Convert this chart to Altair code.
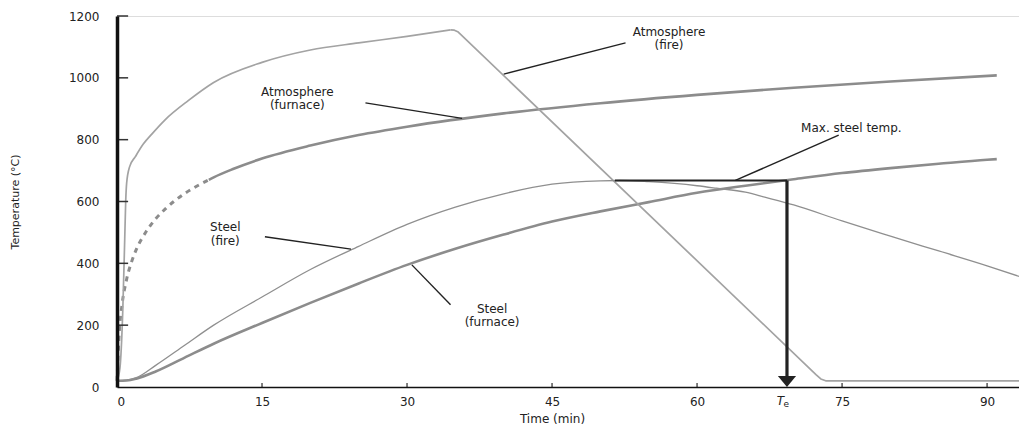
import altair as alt
import pandas as pd

# ---- data ----
# atmosphere (fire): growth phase, then straight-line decay phase
atm_fire_t = [0, 0.3, 0.6, 0.8, 0.9, 1.0, 1.3, 1.9, 2.7, 3.6, 5, 7.4, 10, 15, 20, 25, 30, 34.5]
atm_fire_T = [20, 60, 250, 480, 600, 660, 712, 745, 785, 818, 865, 927, 985, 1050, 1090, 1113, 1134, 1155]
atm_decay_t = [34.5, 34.9, 35.3, 72.3, 72.8, 73.3, 93.3]
atm_decay_T = [1155, 1154, 1148, 40, 26, 20, 20]

atm_furn_dash_t = [0, 0.25, 0.5, 1, 1.5, 2, 3, 4, 5, 6, 7, 8, 9.5]
atm_furn_dash_T = [20, 184, 261, 349, 404, 445, 502, 544, 576, 603, 626, 645, 670]
atm_furn_t = [9.5, 10, 12, 15, 20, 25, 30, 40, 50, 60, 70, 80, 91]
atm_furn_T = [670, 678, 705, 739, 781, 815, 842, 885, 918, 945, 968, 988, 1008]

steel_fire_t = [0, 1, 2, 4, 7, 10, 15, 20, 25, 30, 35, 40, 45, 50, 52, 55, 60, 62, 65, 67, 70, 75, 80, 85, 90, 93.3]
steel_fire_T = [20, 22, 30, 70, 135, 200, 291, 380, 455, 526, 582, 625, 656, 667, 668, 664, 651, 643, 630, 614, 589, 537, 488, 440, 392, 358]

steel_furn_t = [0, 1, 2, 4, 7, 10, 15, 20, 25, 30, 35, 40, 45, 50, 55, 60, 65, 70, 75, 80, 85, 90, 91]
steel_furn_T = [20, 21, 27, 50, 95, 140, 207, 272, 335, 395, 447, 493, 535, 568, 598, 628, 651, 672, 692, 708, 722, 735, 737]

max_start_t = 51.5
te_t = 69.3
max_T = 668

x_ticks = [0, 15, 30, 45, 60, 75, 90]
y_ticks = [0, 200, 400, 600, 800, 1000, 1200]

label_text = ["Atmosphere", "(fire)", "Atmosphere", "(furnace)", "Max. steel temp.",
              "Steel", "(fire)", "Steel", "(furnace)"]
label_t = [57.1, 57.1, 18.65, 18.65, 75.96, 11.2, 11.2, 38.8, 38.8]
label_T = [1147, 1105, 953, 911, 837, 516, 472, 253, 211]

leader_t1 = [52.6, 25.7, 74.65, 15.3, 34.5]
leader_T1 = [1113, 919, 815, 486, 266]
leader_t2 = [40.0, 35.7, 63.96, 24.2, 30.5]
leader_T2 = [1012, 869, 668, 446, 395]

# ---- scales ----
xs = alt.Scale(domain=[0, 93.3], nice=False, zero=False)
ys = alt.Scale(domain=[0, 1200], nice=False)
FONT = "DejaVu Sans"
TXT = "#222222"


def line_df(t, T):
    return pd.DataFrame({"t": t, "T": T})


x_axis = alt.Axis(values=x_ticks, ticks=False, tickSize=0, grid=False, domainColor="#111111",
                  domainWidth=1.5, labelFont=FONT, labelFontSize=12, labelColor=TXT,
                  labelBaseline="middle", labelPadding=14, title="Time (min)", format="d",
                  titleFont=FONT, titleFontSize=12, titleFontWeight="normal", titleColor=TXT,
                  titleX=435, titleY=31, titleBaseline="middle", titleAlign="center", zindex=1)
y_axis = alt.Axis(values=y_ticks, ticks=False, tickSize=0, grid=False, domainColor="#111111",
                  domainWidth=3.5, labelFont=FONT, labelFontSize=12, labelColor=TXT, format="d",
                  labelPadding=18, title="Temperature (°C)", titleFont=FONT, titleFontSize=11,
                  titleFontWeight="normal", titleColor=TXT, titleAngle=270, titleX=-102,
                  titleY=185.5, titleAlign="center", titleBaseline="middle", zindex=1)

base_x = alt.X("t:Q", scale=xs, axis=x_axis)
base_y = alt.Y("T:Q", scale=ys, axis=y_axis)

furn_dash = alt.Chart(line_df(atm_furn_dash_t, atm_furn_dash_T)).mark_line(
    color="#8c8c8c", strokeWidth=3, strokeDash=[5, 5], interpolate="monotone").encode(x=base_x, y=base_y)
furn_solid = alt.Chart(line_df(atm_furn_t, atm_furn_T)).mark_line(
    color="#8c8c8c", strokeWidth=2.6, interpolate="monotone").encode(x="t:Q", y="T:Q")
steel_furn = alt.Chart(line_df(steel_furn_t, steel_furn_T)).mark_line(
    color="#8c8c8c", strokeWidth=2.6, interpolate="monotone").encode(x="t:Q", y="T:Q")
atm_fire = alt.Chart(line_df(atm_fire_t, atm_fire_T)).mark_line(
    color="#a3a3a3", strokeWidth=1.7, interpolate="monotone").encode(x="t:Q", y="T:Q")
atm_decay = alt.Chart(line_df(atm_decay_t, atm_decay_T)).mark_line(
    color="#a3a3a3", strokeWidth=1.7, strokeJoin="round").encode(x="t:Q", y="T:Q")
steel_fire = alt.Chart(line_df(steel_fire_t, steel_fire_T)).mark_line(
    color="#8f8f8f", strokeWidth=1.3, interpolate="monotone").encode(x="t:Q", y="T:Q")

max_df = pd.DataFrame({"t": [max_start_t], "t2": [te_t], "T": [max_T]})
max_line = alt.Chart(max_df).mark_rule(color="#222222", strokeWidth=2).encode(
    x="t:Q", x2="t2:Q", y="T:Q")
arrow_df = pd.DataFrame({"t": [te_t], "T": [max_T], "T2": [20]})
arrow_line = alt.Chart(arrow_df).mark_rule(color="#222222", strokeWidth=3.2).encode(
    x="t:Q", y="T:Q", y2="T2:Q")
head_df = pd.DataFrame({"t": [te_t], "T": [0]})
arrow_head = alt.Chart(head_df).mark_point(
    shape="M-1,-0.6L1,-0.6L0,0.6Z", filled=True, color="#222222", opacity=1, size=330).encode(
    x="t:Q", y="T:Q", yOffset=alt.value(-5.5))

leader_df = pd.DataFrame({"t": leader_t1, "T": leader_T1, "t2": leader_t2, "T2": leader_T2})
leaders = alt.Chart(leader_df).mark_rule(color="#222222", strokeWidth=1.4).encode(
    x="t:Q", y="T:Q", x2="t2:Q", y2="T2:Q")

lab_df = pd.DataFrame({"t": label_t, "T": label_T, "txt": label_text})
labels = alt.Chart(lab_df).mark_text(font=FONT, fontSize=12, color=TXT, align="center",
                                     baseline="middle").encode(x="t:Q", y="T:Q", text="txt:N")

ytick_df = pd.DataFrame({"T": y_ticks[1:], "t": [0] * 6, "t2": [1.15] * 6})
yticks = alt.Chart(ytick_df).mark_rule(color="#333333", strokeWidth=1.5).encode(
    x="t:Q", x2="t2:Q", y="T:Q")
xtick_df = pd.DataFrame({"t": x_ticks[1:], "T": [0] * 6, "T2": [13] * 6})
xticks = alt.Chart(xtick_df).mark_rule(color="#555555", strokeWidth=1.5).encode(
    x="t:Q", y="T:Q", y2="T2:Q")

te_df = pd.DataFrame({"t": [te_t - 0.3], "T": [0]})
te_T = alt.Chart(te_df).mark_text(font=FONT, fontSize=12, fontStyle="italic", color=TXT,
                                  baseline="middle", align="right", dy=14).encode(
    x="t:Q", y="T:Q", text=alt.value("T"))
te_e_df = pd.DataFrame({"t": [te_t - 0.35], "T": [0]})
te_e = alt.Chart(te_e_df).mark_text(font=FONT, fontSize=9, color=TXT,
                                    baseline="middle", align="left", dy=17).encode(
    x="t:Q", y="T:Q", text=alt.value("e"))

chart = alt.layer(
    furn_dash, furn_solid, steel_furn, atm_fire, atm_decay, steel_fire,
    max_line, arrow_line, arrow_head, leaders, labels, yticks, xticks, te_T, te_e
).properties(
    width=902, height=371,
    autosize=alt.AutoSizeParams(type="none"),
    padding={"left": 117, "top": 16, "right": 0, "bottom": 41},
).configure_view(stroke=None).configure(background="white")

chart.save("out.html", embed_options={"renderer": "svg", "actions": False})
